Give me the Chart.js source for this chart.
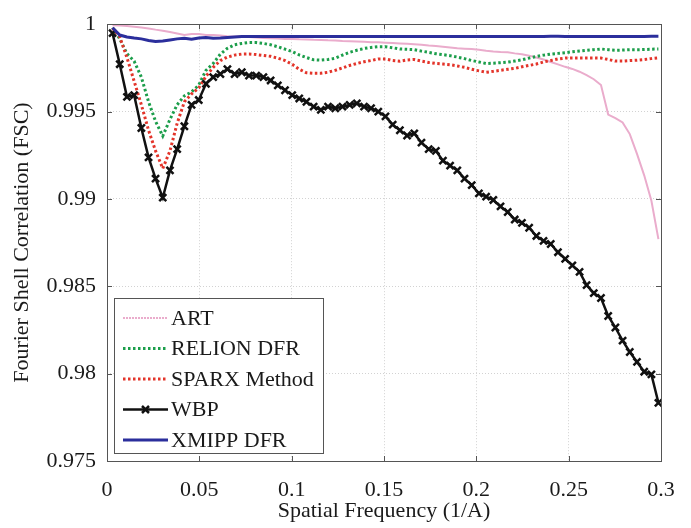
<!DOCTYPE html>
<html>
<head>
<meta charset="utf-8">
<script src="https://cdn.jsdelivr.net/npm/chart.js@4.4.0/dist/chart.umd.min.js"></script>
<style>
  html, body { margin: 0; padding: 0; background: #fff; }
  #wrap { width: 691px; height: 528px; }
</style>
</head>
<body>
<div id="wrap"><canvas id="fsc" width="691" height="528"></canvas></div>
<script>
// spatial frequency of each shell (1/A)
const freq = [0.003, 0.0069, 0.0108, 0.0147, 0.0186, 0.0225, 0.0263, 0.0302, 0.0341, 0.038,
  0.0419, 0.0458, 0.0497, 0.0536, 0.0575, 0.0614, 0.0652, 0.0691, 0.073, 0.0769,
  0.0808, 0.0847, 0.0886, 0.0925, 0.0964, 0.1003, 0.1041, 0.108, 0.1119, 0.1158,
  0.1197, 0.1236, 0.1275, 0.1314, 0.1353, 0.1392, 0.143, 0.1469, 0.1508, 0.1547,
  0.1586, 0.1625, 0.1664, 0.1703, 0.1742, 0.1781, 0.1819, 0.1858, 0.1897, 0.1936,
  0.1975, 0.2014, 0.2053, 0.2092, 0.2131, 0.217, 0.2208, 0.2247, 0.2286, 0.2325,
  0.2364, 0.2403, 0.2442, 0.2481, 0.252, 0.2559, 0.2597, 0.2636, 0.2675, 0.2714,
  0.2753, 0.2792, 0.2831, 0.287, 0.2909, 0.2948, 0.2986];

const art = [0.99994, 0.99992, 0.99989, 0.99986, 0.99981, 0.99976, 0.99969, 0.99963, 0.99955, 0.99947,
  0.99938, 0.99944, 0.99944, 0.99938, 0.99938, 0.99935, 0.99931, 0.99929, 0.99929, 0.99927,
  0.99924, 0.99921, 0.9992, 0.99918, 0.99916, 0.99916, 0.99914, 0.99913, 0.99911, 0.9991,
  0.99908, 0.99907, 0.99904, 0.99903, 0.99901, 0.99899, 0.99897, 0.99896, 0.99894, 0.99892,
  0.9989, 0.99888, 0.99885, 0.99882, 0.99878, 0.99875, 0.99871, 0.99867, 0.99862, 0.9986,
  0.99858, 0.99854, 0.99848, 0.99844, 0.99841, 0.99839, 0.99833, 0.99828, 0.9982, 0.99809,
  0.99798, 0.99784, 0.9977, 0.99756, 0.99744, 0.99728, 0.99708, 0.99685, 0.99652, 0.99483,
  0.99463, 0.99438, 0.99371, 0.99258, 0.99135, 0.98989, 0.9877];

const relion = [0.9998, 0.99916, 0.99831, 0.99789, 0.99697, 0.99556, 0.99444, 0.9936, 0.99455, 0.99539,
  0.9959, 0.99612, 0.99652, 0.99736, 0.99775, 0.99829, 0.99862, 0.99882, 0.9989, 0.99895,
  0.99895, 0.9989, 0.99882, 0.99871, 0.99857, 0.99843, 0.99824, 0.99809, 0.99796, 0.99794,
  0.99798, 0.99805, 0.99823, 0.99839, 0.99851, 0.99861, 0.99867, 0.99871, 0.99871, 0.99865,
  0.99858, 0.99856, 0.99854, 0.99846, 0.99839, 0.99831, 0.99826, 0.9982, 0.99812, 0.99803,
  0.99792, 0.99784, 0.99775, 0.99777, 0.9978, 0.99783, 0.99789, 0.99796, 0.99806, 0.99815,
  0.99823, 0.99829, 0.99833, 0.99837, 0.99842, 0.99846, 0.9985, 0.99854, 0.99858, 0.99854,
  0.99851, 0.99852, 0.99854, 0.99854, 0.99855, 0.99857, 0.99858];

const sparx = [0.99978, 0.99927, 0.99809, 0.99674, 0.99539, 0.99393, 0.99275, 0.99174, 0.99275, 0.99433,
  0.99556, 0.99601, 0.99635, 0.99702, 0.99753, 0.99792, 0.99812, 0.99823, 0.99829, 0.9983,
  0.99826, 0.99821, 0.99816, 0.99806, 0.99792, 0.9977, 0.99742, 0.99722, 0.99719, 0.99719,
  0.99725, 0.99736, 0.9975, 0.99764, 0.99775, 0.99785, 0.99792, 0.99801, 0.99801, 0.99792,
  0.99788, 0.99795, 0.99798, 0.99789, 0.99781, 0.99775, 0.99772, 0.99768, 0.99761, 0.99753,
  0.99742, 0.99733, 0.99725, 0.9973, 0.99736, 0.99742, 0.99747, 0.99756, 0.99764, 0.99772,
  0.99784, 0.99792, 0.99801, 0.99806, 0.99807, 0.99807, 0.99807, 0.99807, 0.99806, 0.99798,
  0.99789, 0.99789, 0.99792, 0.99794, 0.99798, 0.99803, 0.99807];

const wbp = [0.99949, 0.99771, 0.99584, 0.99594, 0.99406, 0.99238, 0.99116, 0.99007, 0.99163, 0.99285,
  0.99416, 0.99538, 0.99566, 0.99659, 0.99697, 0.99715, 0.99743, 0.99715, 0.99725, 0.99706,
  0.99706, 0.99697, 0.99678, 0.9965, 0.99622, 0.99594, 0.99575, 0.99556, 0.99528, 0.9951,
  0.99528, 0.99519, 0.99528, 0.99538, 0.99547, 0.99528, 0.99519, 0.995, 0.99472, 0.99425,
  0.99393, 0.99363, 0.99375, 0.99322, 0.99285, 0.99275, 0.99219, 0.99191, 0.99163, 0.99116,
  0.99079, 0.99032, 0.99013, 0.98994, 0.98957, 0.98925, 0.98882, 0.98863, 0.98835, 0.98788,
  0.9876, 0.98742, 0.98695, 0.98657, 0.9862, 0.98582, 0.98507, 0.98461, 0.98433, 0.9833,
  0.98264, 0.98189, 0.98124, 0.98067, 0.98011, 0.97996, 0.97833];

const xmipp = [0.9998, 0.99938, 0.99927, 0.99921, 0.99916, 0.99907, 0.99901, 0.99904, 0.9991, 0.99916,
  0.99919, 0.99914, 0.99921, 0.99924, 0.9992, 0.99921, 0.99924, 0.99927, 0.99929, 0.9993,
  0.9993, 0.99929, 0.9993, 0.9993, 0.99929, 0.99929, 0.9993, 0.9993, 0.99929, 0.99929,
  0.9993, 0.9993, 0.9993, 0.99929, 0.99929, 0.9993, 0.9993, 0.9993, 0.99929, 0.99929,
  0.99929, 0.9993, 0.9993, 0.9993, 0.99929, 0.99929, 0.99929, 0.9993, 0.9993, 0.99929,
  0.99929, 0.99929, 0.9993, 0.9993, 0.9993, 0.99929, 0.99929, 0.9993, 0.9993, 0.9993,
  0.9993, 0.99931, 0.99931, 0.9993, 0.9993, 0.99929, 0.99929, 0.9993, 0.9993, 0.9993,
  0.9993, 0.99929, 0.99929, 0.9993, 0.9993, 0.99931, 0.99931];

const seriesNames = ["ART", "RELION DFR", "SPARX Method", "WBP", "XMIPP DFR"];
const xTicks = [0, 0.05, 0.1, 0.15, 0.2, 0.25, 0.3];
const xTickLabels = ["0", "0.05", "0.1", "0.15", "0.2", "0.25", "0.3"];
const yTicks = [0.975, 0.98, 0.985, 0.99, 0.995, 1];
const yTickLabels = ["0.975", "0.98", "0.985", "0.99", "0.995", "1"];

const serif = "'Liberation Serif', 'Times New Roman', serif";
const toPoints = (ys) => ys.map((y, i) => ({ x: freq[i], y: y }));

// box, inward tick marks and the legend, drawn like a matlab axes
const matlabFrame = {
  id: "matlabFrame",
  afterDraw(chart) {
    const ctx = chart.ctx;
    const a = chart.chartArea;
    const xs = chart.scales.x;
    const ys = chart.scales.y;
    ctx.save();
    ctx.strokeStyle = "#555";
    ctx.lineWidth = 1;
    ctx.setLineDash([]);
    ctx.beginPath();
    xTicks.forEach((v) => {
      const px = Math.round(xs.getPixelForValue(v)) + 0.5;
      ctx.moveTo(px, a.bottom); ctx.lineTo(px, a.bottom - 5);
      ctx.moveTo(px, a.top); ctx.lineTo(px, a.top + 5);
    });
    yTicks.forEach((v) => {
      const py = Math.round(ys.getPixelForValue(v)) + 0.5;
      ctx.moveTo(a.left, py); ctx.lineTo(a.left + 5, py);
      ctx.moveTo(a.right, py); ctx.lineTo(a.right - 5, py);
    });
    ctx.stroke();
    ctx.strokeRect(Math.round(a.left) + 0.5, Math.round(a.top) + 0.5,
      Math.round(a.right - a.left), Math.round(a.bottom - a.top));

    // legend
    const lx = 114, ly = 298, lw = 209, lh = 155;
    ctx.fillStyle = "#fff";
    ctx.fillRect(lx, ly, lw, lh);
    ctx.strokeStyle = "#555";
    ctx.strokeRect(lx + 0.5, ly + 0.5, lw, lh);
    ctx.font = "22px " + serif;
    ctx.textBaseline = "middle";
    ctx.textAlign = "left";
    chart.data.datasets.forEach((ds, i) => {
      const y = ly + 20 + i * 30.5;
      ctx.strokeStyle = ds.borderColor;
      ctx.lineWidth = ds.borderWidth;
      ctx.setLineDash(ds.label === "ART" ? [2, 1] : (ds.borderDash || []));
      ctx.beginPath();
      ctx.moveTo(123, y); ctx.lineTo(168, y);
      ctx.stroke();
      ctx.setLineDash([]);
      if (ds.pointRadius > 0) {
        ctx.lineWidth = ds.pointBorderWidth;
        ctx.beginPath();
        const r = 3.5;
        ctx.moveTo(145.5 - r, y - r); ctx.lineTo(145.5 + r, y + r);
        ctx.moveTo(145.5 + r, y - r); ctx.lineTo(145.5 - r, y + r);
        ctx.stroke();
      }
      ctx.fillStyle = "#1a1a1a";
      ctx.fillText(ds.label, 171, y + 1);
    });
    ctx.restore();
  },
};

new Chart(document.getElementById("fsc"), {
  type: "line",
  data: {
    datasets: [
      {
        label: seriesNames[0],
        data: toPoints(art),
        borderColor: "rgb(234,172,204)",
        borderWidth: 2,
        borderDash: [],
        pointRadius: 0,
        order: 5,
      },
      {
        label: seriesNames[1],
        data: toPoints(relion),
        borderColor: "#1c9e4b",
        borderWidth: 3,
        borderDash: [2.5, 2.5],
        pointRadius: 0,
        order: 4,
      },
      {
        label: seriesNames[2],
        data: toPoints(sparx),
        borderColor: "#e3342a",
        borderWidth: 3,
        borderDash: [2.5, 2.5],
        pointRadius: 0,
        order: 3,
      },
      {
        label: seriesNames[3],
        data: toPoints(wbp),
        borderColor: "#111",
        borderWidth: 2.5,
        borderDash: [],
        pointStyle: "crossRot",
        pointRadius: 5,
        pointBorderWidth: 2.5,
        pointBorderColor: "#111",
        order: 2,
      },
      {
        label: seriesNames[4],
        data: toPoints(xmipp),
        borderColor: "#2b2e9c",
        borderWidth: 3,
        borderDash: [],
        pointRadius: 0,
        order: 1,
      },
    ],
  },
  options: {
    responsive: false,
    animation: false,
    devicePixelRatio: 1,
    layout: { padding: { top: 16, right: 30, left: 0, bottom: 0 } },
    elements: { line: { tension: 0 } },
    plugins: { legend: { display: false }, tooltip: { enabled: false } },
    scales: {
      x: {
        type: "linear",
        min: 0,
        max: 0.3,
        afterBuildTicks: (s) => { s.ticks = xTicks.map((v) => ({ value: v })); },
        afterFit: (s) => { s.height = 67; },
        grid: { color: "#d2d2d2", drawTicks: false },
        border: { display: false, dash: [1, 2] },
        ticks: {
          autoSkip: false,
          maxRotation: 0,
          padding: 16,
          color: "#1a1a1a",
          font: { family: serif, size: 22 },
          callback: (v, i) => xTickLabels[i],
        },
        title: {
          display: true,
          text: "Spatial Frequency (1/A)",
          color: "#1a1a1a",
          font: { family: serif, size: 22 },
          padding: { top: 4 },
        },
      },
      y: {
        type: "linear",
        min: 0.975,
        max: 1,
        afterBuildTicks: (s) => { s.ticks = yTicks.map((v) => ({ value: v })); },
        afterFit: (s) => { s.width = 107; },
        grid: { color: "#d2d2d2", drawTicks: false },
        border: { display: false, dash: [1, 2] },
        ticks: {
          autoSkip: false,
          padding: 11,
          color: "#1a1a1a",
          font: { family: serif, size: 22 },
          callback: (v, i) => yTickLabels[i],
        },
        title: {
          display: true,
          text: "Fourier Shell Correlation (FSC)",
          color: "#1a1a1a",
          font: { family: serif, size: 22 },
          padding: { top: 9 },
        },
      },
    },
  },
  plugins: [matlabFrame],
});
</script>
</body>
</html>
